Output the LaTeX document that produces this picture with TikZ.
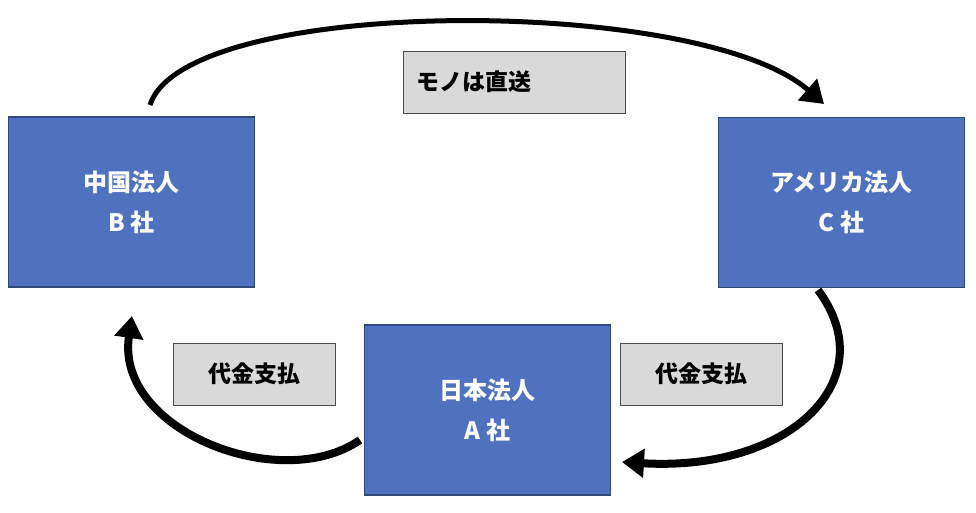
\documentclass[tikz,border=0pt]{standalone}
\usepackage{fontspec}
\newfontfamily\jp{Noto Sans CJK JP}
\usetikzlibrary{arrows.meta}
\definecolor{boxblue}{HTML}{4F71BE}
\definecolor{boxedge}{HTML}{2F4A7A}
\definecolor{lab}{HTML}{D9D9D9}
\begin{document}
\begin{tikzpicture}[x=1pt,y=-1pt,
 corp/.style={draw=boxedge,line width=1.2pt,fill=boxblue,text=white,minimum width=246pt,minimum height=170pt,inner sep=0pt,align=center,font=\jp\bfseries\fontsize{24}{40}\selectfont},
 lbl/.style={draw=black!70,line width=1pt,fill=lab,minimum height=62pt,inner sep=0pt,font=\jp\bfseries\fontsize{23}{26}\selectfont},
 arr/.style={line width=8pt,-{Triangle[width=28pt,length=22pt]}}]
\useasboundingbox (0,0) rectangle (976,512);
\node[corp] (B) at (131.5,202) {中国法人\\B 社};
\node[corp] (C) at (841.5,202.5) {アメリカ法人\\C 社};
\node[corp] (A) at (487.5,410) {日本法人\\A 社};
\node[lbl,minimum width=222pt] (L1) at (514,82) {\hspace*{-80pt}モノは直送};
\node[lbl,minimum width=162pt] (L2) at (254,374) {代金支払};
\node[lbl,minimum width=162pt] (L3) at (701,374) {代金支払};
\coordinate (s1) at (150,105);
\coordinate (s2) at (818,290);
\coordinate (s3) at (360,440);
\draw[arr,line width=5pt] (s1) .. controls (185,-5) and (700,-5) .. (824,104);
\draw[arr] (s2) .. controls (885,380) and (790,472) .. (622,462);
\draw[arr] (s3) .. controls (280,495) and (115,430) .. (132,316);
\end{tikzpicture}
\end{document}
